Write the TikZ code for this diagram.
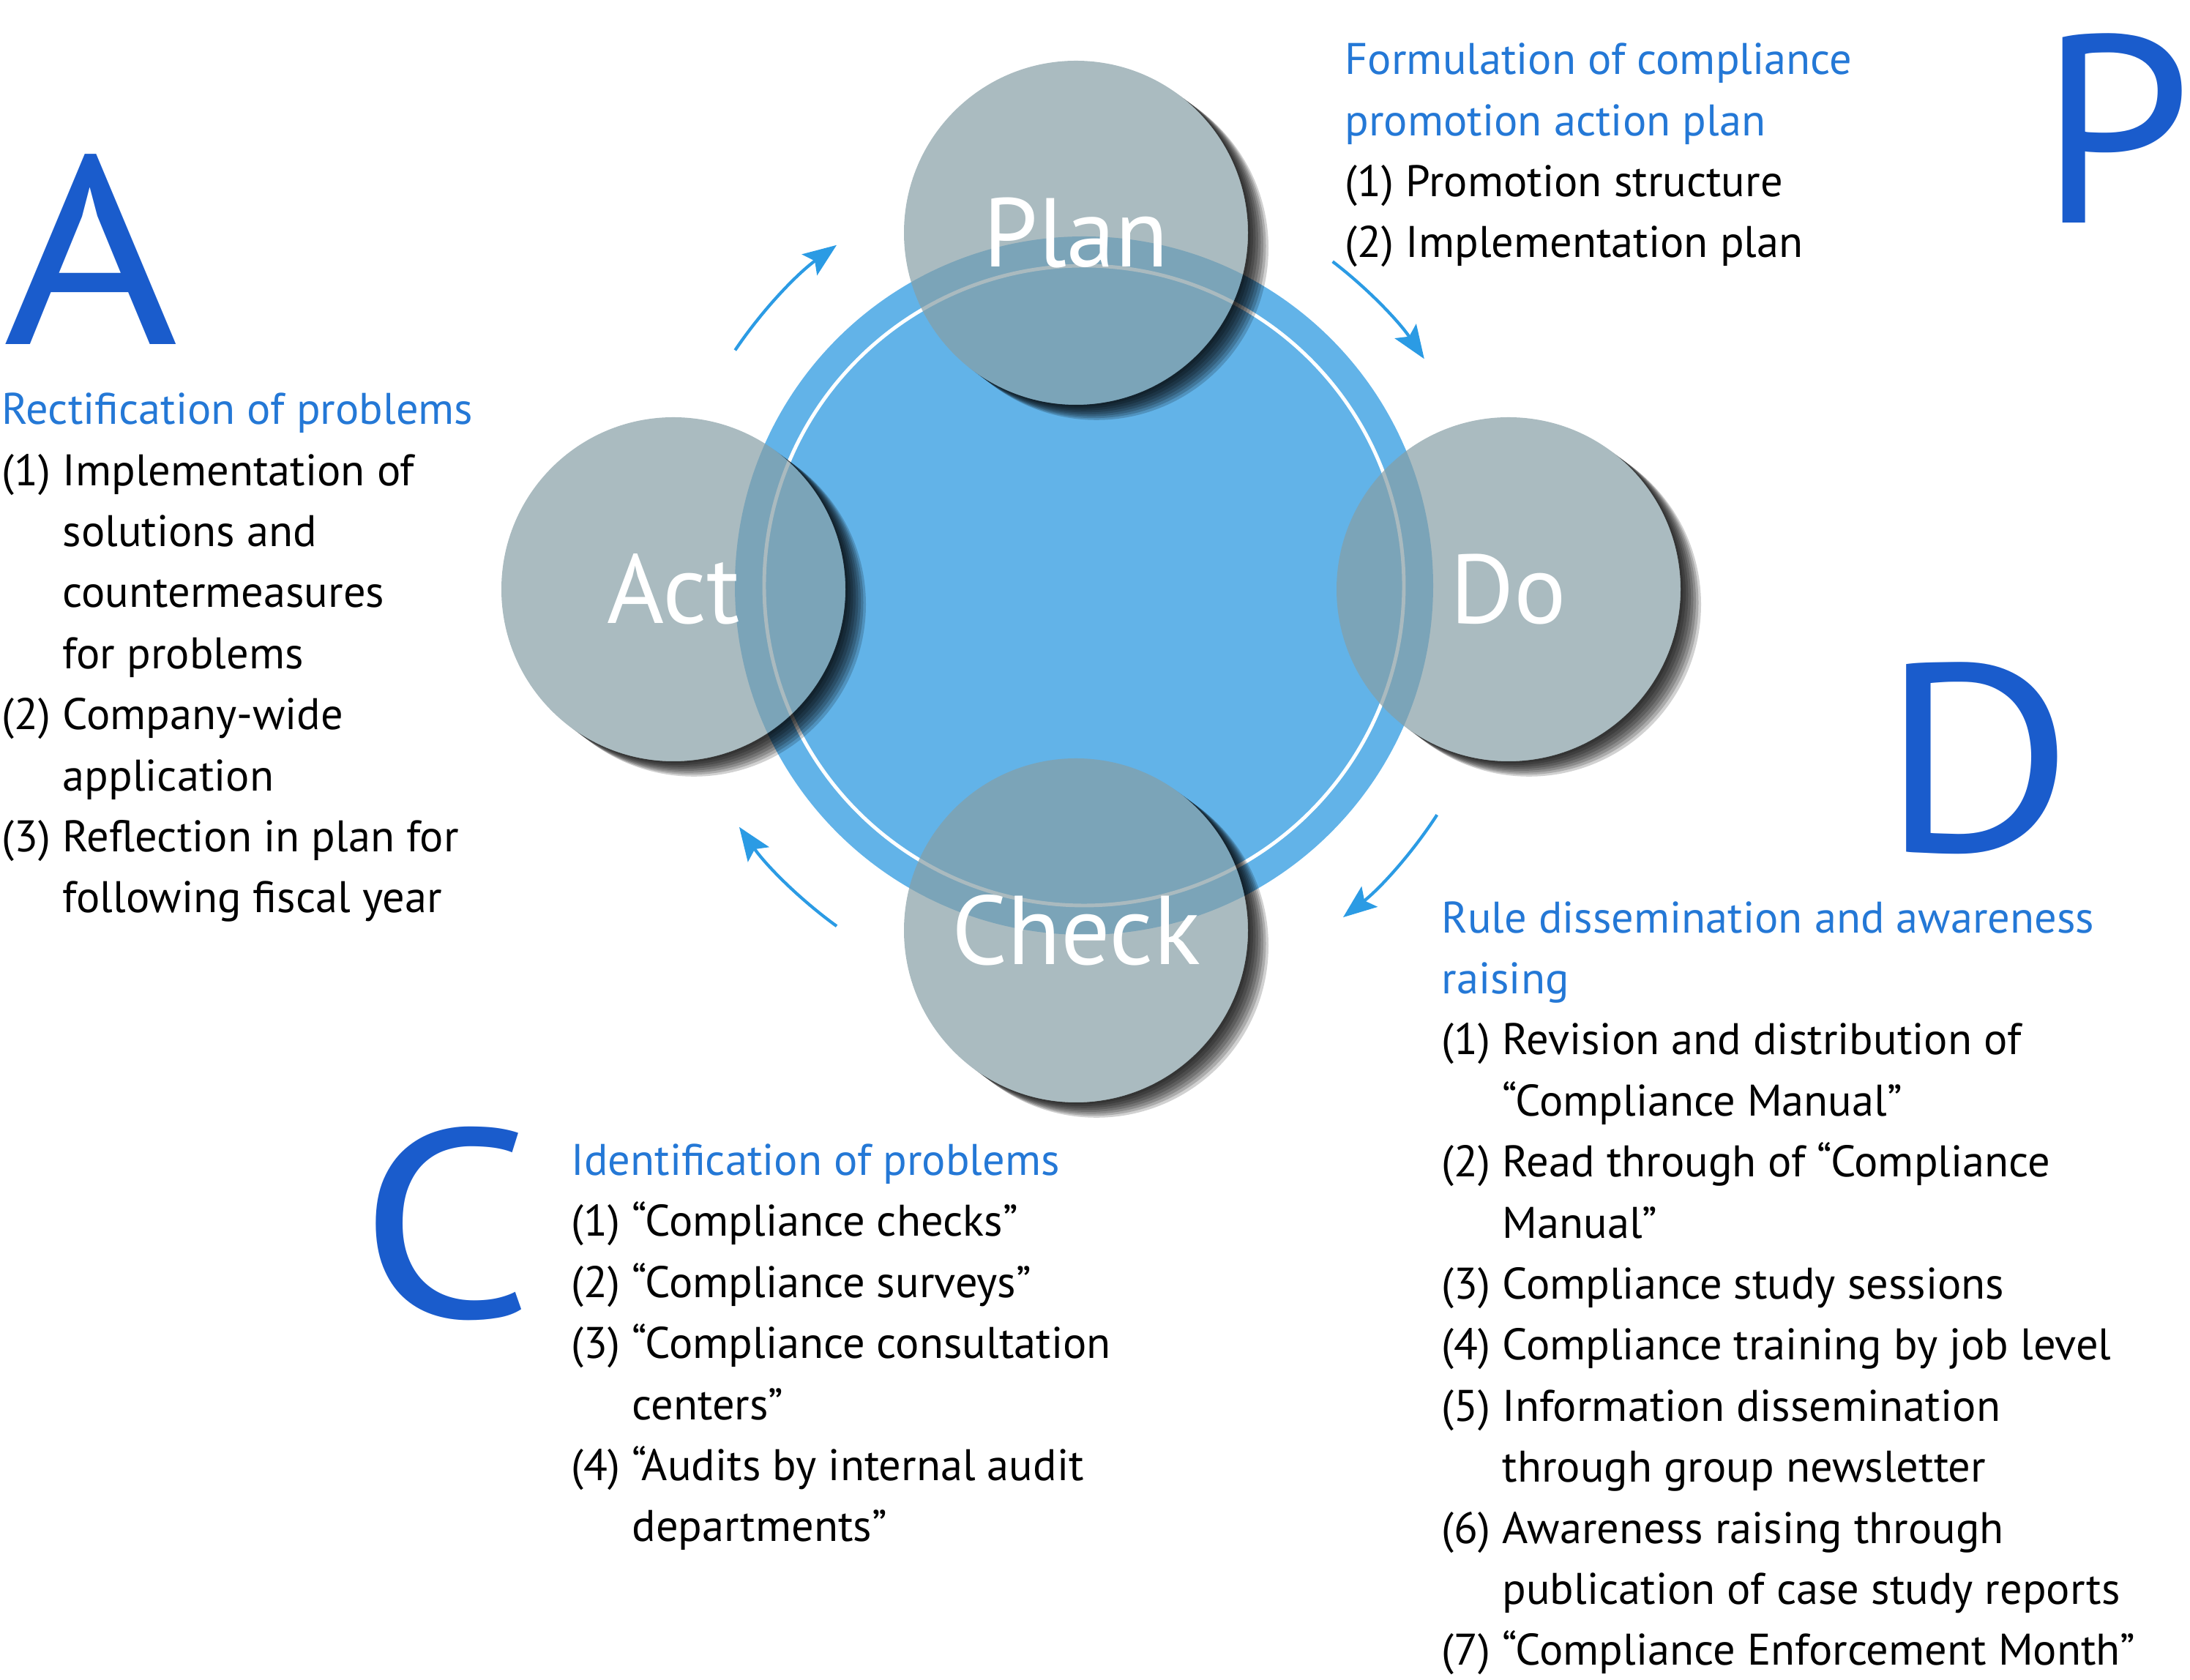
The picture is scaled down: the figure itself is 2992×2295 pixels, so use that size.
\documentclass[tikz,border=0pt]{standalone}
\usepackage{fontspec}
\setmainfont{PT Sans}
\usetikzlibrary{arrows.meta}
\definecolor{discblue}{RGB}{98,179,232}
\definecolor{stagegray}{RGB}{134,158,165}
\definecolor{letterblue}{RGB}{26,92,204}
\definecolor{headblue}{RGB}{36,120,214}
\definecolor{cycleblue}{RGB}{43,155,228}

\begin{document}
\begin{tikzpicture}[x=0.1mm, y=0.1mm,
  stage/.style={circle, minimum size=4.7cm, inner sep=0pt, fill=stagegray,
    fill opacity=0.7, text opacity=1, text=white,
    font=\fontsize{38}{44}\selectfont},
  bigletter/.style={anchor=base west, inner sep=0pt, text=letterblue,
    font=\fontsize{104}{110}\selectfont},
  txt/.style={anchor=base west, inner sep=0pt, align=left,
    font=\fontsize{17.2}{23.73}\selectfont},
  cyclearrow/.style={-{Stealth[length=13pt, width=10pt, inset=2.5pt]},
    cycleblue, line width=1.2pt}]
  \useasboundingbox (0,0) rectangle (2992,2295);

  % the big disc and its ring
  \coordinate (cen) at (1481,1495);
  \fill[discblue] (cen) circle[radius=477];
  \draw[white, line width=1.4pt] (cen) circle[radius=437];

  \coordinate (pc) at (1470,1977);
  \coordinate (dc) at (2061,1490);
  \coordinate (cc) at (1470,1024);
  \coordinate (ac) at (920,1490);

  % soft shadows, kept outside the discs
  \foreach \c in {pc,dc,cc,ac} {
    \begin{scope}
      \clip (0,0) -- (0,2295) -- (2992,2295) -- (2992,0) -- cycle
        (\c) circle[radius=235];
      \foreach \k in {1,...,8}
        \fill[black, opacity=0.18] ([shift={(3.5*\k,-2.6*\k)}]\c) circle[radius=235];
    \end{scope}
  }

  \node[stage] (plan)  at (pc) {Plan};
  \node[stage] (do)    at (dc) {Do};
  \node[stage] (check) at (cc) {Check};
  \node[stage] (act)   at (ac) {Act};

  % cycle arrows, clockwise
  \draw[cyclearrow] ([shift={(146:575)}]cen) arc[start angle=146, end angle=126, radius=575];
  \draw[cyclearrow] ([shift={(52.5:558)}]cen) arc[start angle=52.5, end angle=34, radius=568];
  \draw[cyclearrow] ([shift={(-33:575)}]cen) arc[start angle=-33, end angle=-52, radius=575];
  \draw[cyclearrow] ([shift={(-126:575)}]cen) arc[start angle=-126, end angle=-145, radius=575];

  % big letters
  \node[bigletter] (bigp) at (2786,1990) {\scalebox{1.02}[1]{P}};
  \node[bigletter] (biga) at (4,1824) {\scalebox{1.12}[1]{A}};
  \node[bigletter] (bigd) at (2570,1131) {\scalebox{1.1}[1]{D}};
  \node[bigletter] (bigc) at (490,495) {\scalebox{1.14}[1]{C}};

  % text blocks (placed at the baseline of their last line)
  \node[txt] (ptext) at (1837,1943) {\textcolor{headblue}{Formulation of compliance}\\
    \textcolor{headblue}{promotion action plan}\\
    (1) Promotion structure\\
    (2) Implementation plan};
  \node[txt] (atext) at (2,1048) {\textcolor{headblue}{Rectification of problems}\\
    (1) Implementation of\\
    \phantom{(1) }solutions and\\
    \phantom{(1) }countermeasures\\
    \phantom{(1) }for problems\\
    (2) Company-wide\\
    \phantom{(2) }application\\
    (3) Reflection in plan for\\
    \phantom{(3) }following fiscal year};
  \node[txt] (ctext) at (780,189) {\textcolor{headblue}{Identification of problems}\\
    (1) “Compliance checks”\\
    (2) “Compliance surveys”\\
    (3) “Compliance consultation\\
    \phantom{(3) }centers”\\
    (4) “Audits by internal audit\\
    \phantom{(4) }departments”};
  \node[txt] (dtext) at (1969,20) {\textcolor{headblue}{Rule dissemination and awareness}\\
    \textcolor{headblue}{raising}\\
    (1) Revision and distribution of\\
    \phantom{(1) }“Compliance Manual”\\
    (2) Read through of “Compliance\\
    \phantom{(2) }Manual”\\
    (3) Compliance study sessions\\
    (4) Compliance training by job level\\
    (5) Information dissemination\\
    \phantom{(5) }through group newsletter\\
    (6) Awareness raising through\\
    \phantom{(6) }publication of case study reports\\
    (7) “Compliance Enforcement Month”};
\end{tikzpicture}
\end{document}
